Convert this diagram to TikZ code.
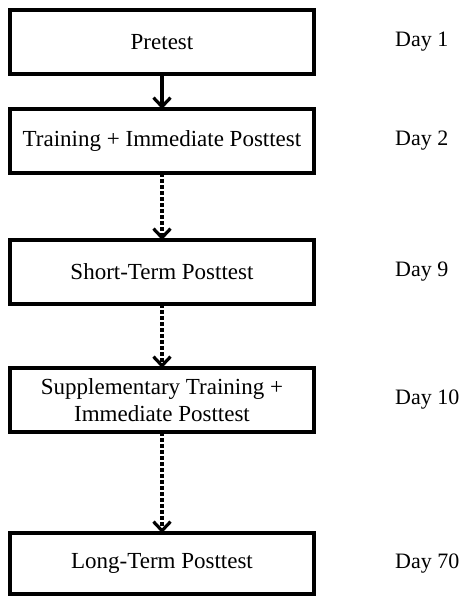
\documentclass[tikz,border=0pt]{standalone}
\usepackage{fontspec}
\setmainfont{Liberation Serif}
\usetikzlibrary{arrows.meta}
\usetikzlibrary{positioning}

\tikzset{
  stage/.style={draw, line width=3.2pt, minimum width=304pt, minimum height=64pt,
    inner sep=0pt, outer sep=0pt, align=center, font=\fontsize{23}{27}\selectfont},
  day/.style={inner sep=0pt, anchor=west, font=\fontsize{22}{26}\selectfont},
  flow/.style={line width=3.4pt, -{Straight Barb[length=9pt,width=17pt,line width=3.2pt]}},
  later/.style={flow, dash pattern=on 3.5pt off 2.5pt}
}

\begin{document}
\begin{tikzpicture}[x=1pt,y=1pt]
  \useasboundingbox (0,0) rectangle (463,-597);
  \node[stage] (pre) at (162,-42) {Pretest};
  \node[stage] (train) [below=35pt of pre] {Training + Immediate Posttest};
  \node[stage] (short) [below=67pt of train] {Short-Term Posttest};
  \node[stage] (supp) [below=64pt of short] {Supplementary Training +\\Immediate Posttest};
  \node[stage] (long) [below=101pt of supp, minimum height=61pt] {Long-Term Posttest};

  % days
  \node[day] (d1) [right=81pt of pre] {Day 1};
  \node[day] (d2) [right=81pt of train] {Day 2};
  \node[day] (d9) [right=81pt of short] {Day 9};
  \node[day] (d10) [right=81pt of supp] {Day 10};
  \node[day] (d70) [right=81pt of long] {Day 70};

  \draw[flow] (pre) -- (train);
  \draw[later] (train) -- (short);
  \draw[later] (short) -- (supp);
  \draw[later] (supp) -- (long);
\end{tikzpicture}
\end{document}
